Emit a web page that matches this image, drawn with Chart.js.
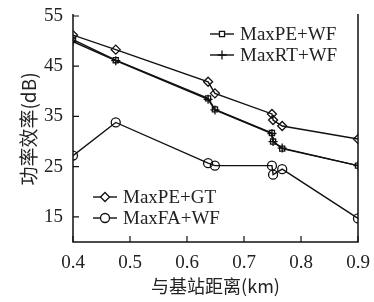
<!DOCTYPE html>
<html>
<head>
<meta charset="utf-8">
<script src="https://cdn.jsdelivr.net/npm/chart.js@4/dist/chart.umd.min.js"></script>
<style>
  html, body { margin: 0; padding: 0; background: #fff; }
  #wrap { width: 374px; height: 302px; }
</style>
</head>
<body>
<div id="wrap"><canvas id="graph" width="374" height="302"></canvas></div>
<script>
// 与基站距离 (km)
var distances = [0.4, 0.475, 0.637, 0.649, 0.749, 0.751, 0.767, 0.9];
// 功率效率 (dB)
var maxPeGt = [51.2, 48.3, 41.9, 39.6, 35.5, 34.3, 33.1, 30.5];
var maxPeWf = [50.3, 46.2, 38.6, 36.4, 31.7, 30.0, 28.6, 25.2];
var maxRtWf = [49.9, 46.1, 38.4, 36.3, 31.6, 30.0, 28.7, 25.2];
var maxFaWf = [27.2, 33.8, 25.7, 25.2, 25.2, 23.4, 24.5, 14.7];
var xTicks = [0.4, 0.5, 0.6, 0.7, 0.8, 0.9];
var yTicks = [15, 25, 35, 45, 55];

var serif = "'Liberation Serif', 'DejaVu Serif', serif";
var cjk = "'Noto Sans CJK SC', sans-serif";

function pts(vals) {
    return vals.map(function (v, i) { return { x: distances[i], y: v }; });
}

function series(label, vals, style, radius) {
    return {
        label: label,
        data: pts(vals),
        borderColor: "#111",
        borderWidth: 1.4,
        backgroundColor: "#fff",
        pointBackgroundColor: "rgba(255,255,255,0)",
        pointBorderColor: "#111",
        pointBorderWidth: 1.3,
        pointStyle: style,
        pointRadius: radius,
        fill: false,
        tension: 0
    };
}

var datasets = [
    series("MaxPE+WF", maxPeWf, "rect", 3.6),
    series("MaxRT+WF", maxRtWf, "cross", 4.5),
    series("MaxPE+GT", maxPeGt, "rectRot", 4.5),
    series("MaxFA+WF", maxFaWf, "circle", 4.5)
];

// two legend boxes inside the plot, like the figure
var legendBoxes = [
    { items: [0, 1], x: 210, y: 34 },
    { items: [2, 3], x: 93, y: 197 }
];

var framePlugin = {
    id: "frame",
    afterDraw: function (chart) {
        var ctx = chart.ctx, a = chart.chartArea;
        var xs = chart.scales.x, ys = chart.scales.y;
        ctx.save();
        ctx.strokeStyle = "#111";
        ctx.lineWidth = 1.5;
        ctx.beginPath();
        ctx.moveTo(a.left, a.top - 2); ctx.lineTo(a.left, a.bottom);
        ctx.lineTo(a.right, a.bottom); ctx.lineTo(a.right, a.top - 2);
        ctx.stroke();
        // inward ticks
        ctx.lineWidth = 1.2;
        ctx.beginPath();
        xTicks.forEach(function (t) {
            var px = xs.getPixelForValue(t);
            ctx.moveTo(px, a.bottom); ctx.lineTo(px, a.bottom - 6);
        });
        yTicks.forEach(function (t) {
            var py = ys.getPixelForValue(t);
            ctx.moveTo(a.left, py); ctx.lineTo(a.left + 6, py);
        });
        ctx.stroke();
        // legends
        ctx.font = "19px " + serif;
        ctx.textBaseline = "middle";
        legendBoxes.forEach(function (box) {
            box.items.forEach(function (idx, k) {
                var ds = chart.data.datasets[idx];
                var y = box.y + k * 21;
                ctx.lineWidth = 1.4;
                ctx.beginPath();
                ctx.moveTo(box.x, y); ctx.lineTo(box.x + 24, y);
                ctx.stroke();
                ctx.lineWidth = 1.3;
                ctx.fillStyle = "#fff";
                Chart.helpers.drawPoint(ctx, {
                    pointStyle: ds.pointStyle, radius: ds.pointRadius, borderWidth: 1.3
                }, box.x + 12, y);
                ctx.fillStyle = "#222";
                ctx.fillText(ds.label, box.x + 30, y + 1);
            });
        });
        ctx.restore();
    }
};

var lineChart = new Chart(document.getElementById("graph").getContext("2d"), {
    type: "line",
    data: { datasets: datasets },
    plugins: [framePlugin],
    options: {
        responsive: false,
        animation: false,
        layout: { padding: { top: 16, right: 16, left: 0, bottom: 0 } },
        plugins: { legend: { display: false }, tooltip: { enabled: false } },
        scales: {
            x: {
                type: "linear",
                min: 0.4,
                max: 0.9,
                afterBuildTicks: function (s) { s.ticks = xTicks.map(function (v) { return { value: v }; }); },
                afterFit: function (s) { s.height = 60; s.paddingLeft = 0; s.paddingRight = 0; },
                grid: { display: false, drawTicks: false },
                border: { display: false },
                ticks: {
                    padding: 10,
                    color: "#222",
                    font: { family: serif, size: 19 },
                    maxRotation: 0,
                    callback: function (v) { return v.toFixed(1); }
                },
                title: {
                    display: true,
                    text: "与基站距离(km)",
                    color: "#222",
                    font: { family: cjk, size: 18 },
                    padding: { top: 0, bottom: 5 }
                }
            },
            y: {
                min: 10,
                max: 55,
                afterBuildTicks: function (s) { s.ticks = yTicks.map(function (v) { return { value: v }; }); },
                afterFit: function (s) { s.width = 73; s.paddingTop = 0; s.paddingBottom = 0; },
                grid: { display: false, drawTicks: false },
                border: { display: false },
                ticks: {
                    padding: 10,
                    color: "#222",
                    font: { family: serif, size: 19 }
                },
                title: {
                    display: true,
                    text: "功率效率(dB)",
                    color: "#222",
                    font: { family: cjk, size: 19 },
                    padding: { top: 17, bottom: 0 }
                }
            }
        }
    }
});
</script>
</body>
</html>
